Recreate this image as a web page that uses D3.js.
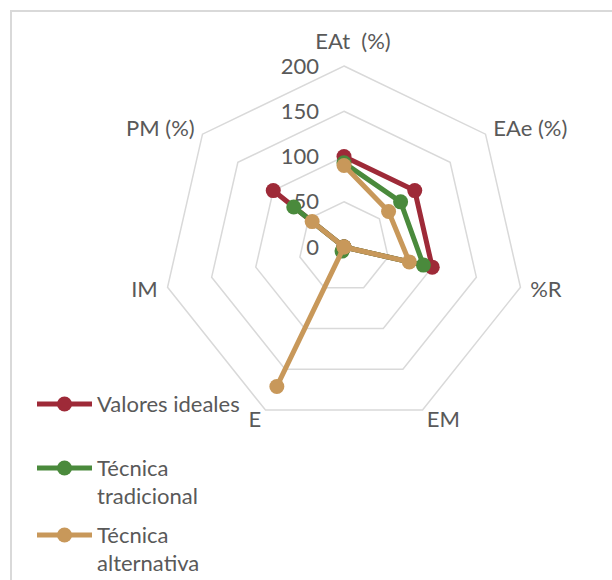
<!DOCTYPE html>
<html>
<head>
<meta charset="utf-8">
<script src="https://cdn.jsdelivr.net/npm/d3@7/dist/d3.min.js"></script>
<style>
  html, body { margin: 0; padding: 0; background: #fff; }
  svg text { font-family: Lato, "Open Sans", sans-serif; fill: #595959; white-space: pre; }
</style>
</head>
<body>
<svg id="chart" width="612" height="580"></svg>
<script>
// Radar axes (clockwise from the top)
const axes = ["EAt  (%)", "EAe (%)", "%R", "EM", "E", "IM", "PM (%)"];
const ticks = [0, 50, 100, 150, 200];

const seriesNames = ["Valores ideales", "Técnica tradicional", "Técnica alternativa"];
const seriesLegend = [["Valores ideales"], ["Técnica", "tradicional"], ["Técnica", "alternativa"]];
const seriesColors = ["#9e2a38", "#4a8a3c", "#c8985a"];

const valoresIdeales = [100, 100, 100, 0, 0, 0, 100];
const tecnicaTradicional = [93, 80, 90, 0, 5, 0, 71];
const tecnicaAlternativa = [90, 63, 74, 0, 171, 0, 45];
const seriesValues = [valoresIdeales, tecnicaTradicional, tecnicaAlternativa];

const svg = d3.select("#chart");
const cx = 344, cy = 247, R = 181;
const fontSize = 22;

// chart frame (top and left edges)
svg.append("path")
  .attr("d", "M11,580 V11 H612")
  .attr("fill", "none").attr("stroke", "#d9d9d9").attr("stroke-width", 2);

const r = d3.scaleLinear().domain([0, 200]).range([0, R]);
const angle = d3.scaleLinear().domain([0, axes.length]).range([0, 2 * Math.PI]);
const pt = (i, v) => [cx + r(v) * Math.sin(angle(i)), cy - r(v) * Math.cos(angle(i))];

// ring gridlines
const ring = d3.line().curve(d3.curveLinearClosed);
svg.append("g").selectAll("path")
  .data(ticks.filter(t => t > 0))
  .join("path")
  .attr("d", t => ring(axes.map((a, i) => pt(i, t))))
  .attr("fill", "none").attr("stroke", "#d9d9d9").attr("stroke-width", 1.5);

// value labels along the top axis
svg.append("g").selectAll("text")
  .data(ticks)
  .join("text")
  .attr("x", cx - 25)
  .attr("y", t => cy - r(t))
  .attr("dy", "0.35em")
  .attr("text-anchor", "end")
  .attr("font-size", fontSize)
  .text(t => t);

// axis labels
svg.append("g").selectAll("text")
  .data(axes)
  .join("text")
  .each(function (a, i) {
    const s = Math.sin(angle(i)), c = Math.cos(angle(i));
    const d = R + 10;
    let x = cx + d * s, y = cy - d * c;
    let anchor = s > 0.1 ? "start" : (s < -0.1 ? "end" : "middle");
    if (anchor === "middle") { y -= 15; x += 9; }
    d3.select(this)
      .attr("x", x).attr("y", y).attr("dy", "0.35em")
      .attr("text-anchor", anchor)
      .attr("font-size", fontSize)
      .text(a);
  });

// series polylines and markers
const line = d3.line();
seriesValues.forEach((vals, k) => {
  const g = svg.append("g");
  const pts = vals.map((v, i) => pt(i, v));
  g.append("path")
    .attr("d", line(pts))
    .attr("fill", "none")
    .attr("stroke", seriesColors[k])
    .attr("stroke-width", 5)
    .attr("stroke-linejoin", "round");
  g.selectAll("circle")
    .data(pts)
    .join("circle")
    .attr("cx", d => d[0]).attr("cy", d => d[1])
    .attr("r", 7.5)
    .attr("fill", seriesColors[k]);
});

// legend
const legendY = [404, 468, 535];
const legend = svg.append("g");
seriesNames.forEach((name, k) => {
  const y = legendY[k];
  legend.append("line")
    .attr("x1", 37).attr("x2", 92).attr("y1", y).attr("y2", y)
    .attr("stroke", seriesColors[k]).attr("stroke-width", 5);
  legend.append("circle")
    .attr("cx", 64.5).attr("cy", y).attr("r", 7.5)
    .attr("fill", seriesColors[k]);
  seriesLegend[k].forEach((txt, j) => {
    legend.append("text")
      .attr("x", 97).attr("y", y + j * 28.5)
      .attr("dy", "0.35em")
      .attr("font-size", fontSize)
      .text(txt);
  });
});
</script>
</body>
</html>
